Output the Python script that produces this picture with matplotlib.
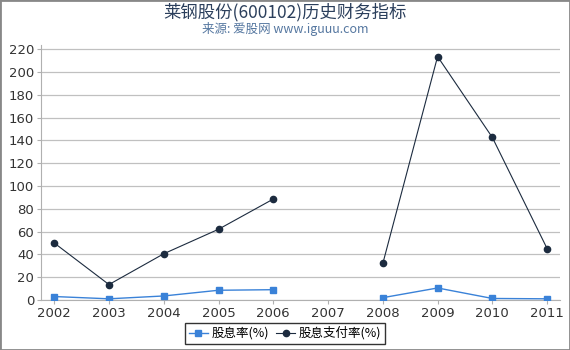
import numpy as np
import matplotlib.pyplot as plt

plt.rcParams['font.family'] = ['Noto Sans CJK SC', 'DejaVu Sans']

years = [2002, 2003, 2004, 2005, 2006, 2007, 2008, 2009, 2010, 2011]
dividend_yield = [3.0, 1.0, 3.5, 8.5, 9.0, np.nan, 2.0, 10.5, 1.3, 1.0]
payout_ratio = [50.0, 13.5, 40.5, 62.0, 88.5, np.nan, 32.0, 213.5, 142.5, 45.0]
yticks = list(range(0, 221, 20))

fig = plt.figure(figsize=(5.7, 3.5), dpi=100)
ax = fig.add_axes([0.072, 0.143, 0.910, 0.728])

ax.plot(years, dividend_yield, color='#3a82d8', marker='s', markersize=4.5,
        linewidth=1, label='股息率(%)', zorder=3)
ax.plot(years, payout_ratio, color='#1c2b3f', marker='o', markersize=4.5,
        linewidth=0.8, label='股息支付率(%)', zorder=3)

ax.set_xlim(2001.76, 2011.23)
ax.set_ylim(0, 223.5)
ax.set_xticks(years)
ax.set_xticklabels([str(y) for y in years], fontsize=9.5, color='#333333',
                   family='DejaVu Sans')
ax.set_yticks(yticks)
ax.set_yticklabels([str(v) for v in yticks], fontsize=9.5, color='#333333',
                   family='DejaVu Sans')
ax.grid(axis='y', color='#c0c0c0', linewidth=0.9)
ax.set_axisbelow(True)
for s in ['top', 'right']:
    ax.spines[s].set_visible(False)
ax.spines['left'].set_color('#b0b0b0')
ax.spines['bottom'].set_color('#b0b0b0')
ax.tick_params(axis='both', length=3, color='#b0b0b0', pad=2)

fig.text(0.5, 0.965, '莱钢股份(600102)历史财务指标', ha='center', va='center',
         fontsize=12.5, color='#2b3f5c')
fig.text(0.5, 0.918, '来源: 爱股网 www.iguuu.com', ha='center', va='center',
         fontsize=9, color='#5577a0')

leg = fig.legend(loc='lower center', bbox_to_anchor=(0.5, 0.0), ncol=2,
                 fontsize=9, frameon=True, fancybox=False, borderpad=0.3,
                 handlelength=1.5, handletextpad=0.3, columnspacing=0.6)
leg.get_frame().set_edgecolor('black')
leg.get_frame().set_linewidth(1)

fig.patches.append(plt.Rectangle((0, 0), 1, 1, transform=fig.transFigure,
                                 fill=False, edgecolor='#888888', linewidth=2))

fig.savefig('out.png', dpi=100)
